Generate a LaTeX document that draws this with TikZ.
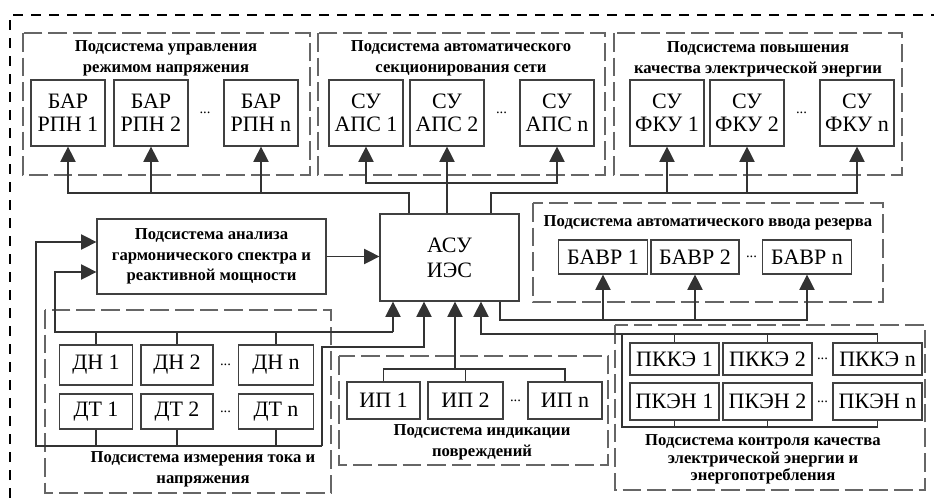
\documentclass[tikz,border=0pt]{standalone}
\usepackage{fontspec}
\setmainfont{Liberation Serif}
\usetikzlibrary{arrows.meta}
\begin{document}
\begin{tikzpicture}[x=0.75pt,y=-0.75pt,
  box/.style={draw=black!75, line width=0.9pt, fill=white, inner sep=0pt,
              align=center, font=\fontsize{16.5}{17.5}\selectfont},
  tall/.style={minimum width=55.5pt, minimum height=49.5pt},
  grp/.style={draw=black!60, line width=0.9pt, dash pattern=on 14pt off 4.5pt},
  ttl/.style={inner sep=0pt, align=center, font=\bfseries\fontsize{12.5}{15.5}\selectfont},
  dots/.style={inner sep=0pt, font=\fontsize{11}{11}\selectfont},
  wire/.style={draw=black!80, line width=0.8pt},
  arr/.style={wire, -{Triangle[width=11.5pt,length=11.5pt]}},
  outer/.style={draw=black, line width=2pt, dash pattern=on 7.5pt off 6pt},
]
\useasboundingbox (0,0) rectangle (934,498);

% outer frame of the whole system
\draw[outer] (10,498) -- (10,15) -- (934,15);

% ---------- upper subsystems ----------
\draw[grp] (23,33) rectangle (310,175);
\node[ttl] (t1) at (166,58.5) {Подсистема управления\\режимом напряжения};
\node[box,tall] (bar1) at (68,113) {БАР\\РПН 1};
\node[box,tall] (bar2) at (151,113) {БАР\\РПН 2};
\node[box,tall] (barn) at (261,113) {БАР\\РПН n};
\node[dots] (d1) at (205,113) {...};

\draw[grp] (318,33) rectangle (605,175);
\node[ttl] (t2) at (461,58.5) {Подсистема автоматического\\секционирования сети};
\node[box,tall] (aps1) at (366,113) {СУ\\АПС 1};
\node[box,tall] (aps2) at (447,113) {СУ\\АПС 2};
\node[box,tall] (apsn) at (557,113) {СУ\\АПС n};
\node[dots] (d2) at (501.5,113) {...};

\draw[grp] (614,33) rectangle (902,175);
\node[ttl] (t3) at (758,59) {Подсистема повышения\\качества электрической энергии};
\node[box,tall] (fku1) at (667,113) {СУ\\ФКУ 1};
\node[box,tall] (fku2) at (747,113) {СУ\\ФКУ 2};
\node[box,tall] (fkun) at (857,113) {СУ\\ФКУ n};
\node[dots] (d3) at (801.5,113) {...};

% ---------- central control system ----------
\node[box, minimum width=104.25pt, minimum height=65.25pt,
      font=\fontsize{16.5}{19}\selectfont] (asu) at (449.5,257.5) {АСУ\\ИЭС};

\node[box, minimum width=171.75pt, minimum height=56.25pt,
      font=\bfseries\fontsize{12.5}{15.4}\selectfont] (an) at (211.5,256.5)
      {Подсистема анализа\\гармонического спектра и\\реактивной мощности};

% ---------- automatic reserve transfer ----------
\draw[grp] (533,203) rectangle (883,302);
\node[ttl] (t4) at (708,223) {Подсистема автоматического ввода резерва};
\node[box, minimum width=66.75pt, minimum height=25.5pt] (bavr1) at (603,257) {БАВР 1};
\node[box, minimum width=66pt, minimum height=25.5pt] (bavr2) at (695,257) {БАВР 2};
\node[box, minimum width=66.75pt, minimum height=25.5pt] (bavrn) at (807,257) {БАВР n};
\node[dots] (d4) at (751.5,257) {...};

% ---------- current and voltage measurement ----------
\draw[grp] (45,310) rectangle (331,493);
\node[ttl] (t5) at (203,469) {Подсистема измерения тока и\\напряжения};
\node[box, minimum width=54.75pt, minimum height=30pt] (dn1) at (96,365) {ДН 1};
\node[box, minimum width=54pt, minimum height=30pt] (dn2) at (177,365) {ДН 2};
\node[box, minimum width=56.25pt, minimum height=30pt] (dnn) at (276,365) {ДН n};
\node[dots] (d5) at (225.5,365) {...};
\node[box, minimum width=54.75pt, minimum height=26.25pt] (dt1) at (96,411.5) {ДТ 1};
\node[box, minimum width=54pt, minimum height=26.25pt] (dt2) at (177,411.5) {ДТ 2};
\node[box, minimum width=56.25pt, minimum height=26.25pt] (dtn) at (276,411.5) {ДТ n};
\node[dots] (d6) at (225.5,411.5) {...};

% ---------- fault indication ----------
\draw[grp] (339,356) rectangle (608,465);
\node[ttl] (t6) at (482,442) {Подсистема индикации\\повреждений};
\node[box, minimum width=54.75pt, minimum height=27.75pt] (ip1) at (383.5,400.5) {ИП 1};
\node[box, minimum width=56.25pt, minimum height=27.75pt] (ip2) at (465.5,400.5) {ИП 2};
\node[box, minimum width=55.5pt, minimum height=27.75pt] (ipn) at (565,400.5) {ИП n};
\node[dots] (d7) at (515.5,400.5) {...};

% ---------- power quality and consumption control ----------
\draw[grp] (615,325) rectangle (925,490);
\node[ttl, font=\bfseries\fontsize{12.5}{13.2}\selectfont] (t7) at (763,459.5)
      {Подсистема контроля качества\\электрической энергии и\\энергопотребления};
\node[box, minimum width=66.75pt, minimum height=24pt] (pk1) at (674.5,359) {ПККЭ 1};
\node[box, minimum width=66.75pt, minimum height=24pt] (pk2) at (767.5,359) {ПККЭ 2};
\node[box, minimum width=66.75pt, minimum height=24pt] (pkn) at (877.5,359) {ПККЭ n};
\node[dots] (d8) at (822.5,359) {...};
\node[box, minimum width=66.75pt, minimum height=27.75pt] (pe1) at (674.5,401.5) {ПКЭН 1};
\node[box, minimum width=66.75pt, minimum height=27.75pt] (pe2) at (767.5,401.5) {ПКЭН 2};
\node[box, minimum width=66.75pt, minimum height=27.75pt] (pen) at (877.5,401.5) {ПКЭН n};
\node[dots] (d9) at (822.5,401.5) {...};

% ---------- bus junctions ----------
\coordinate (tL) at (409,193);
\coordinate (tM) at (447,183);
\coordinate (tR) at (491,193);
\coordinate (inA) at (36,242);
\coordinate (inB) at (55,272);
\coordinate (mTL) at (55,332);
\coordinate (mTR) at (393,332);
\coordinate (mBL) at (36,446);
\coordinate (mBR) at (322,446);
\coordinate (mK) at (424,347);
\coordinate (iB) at (455,369);
\coordinate (bB) at (500,320);
\coordinate (kA) at (481,334);
\coordinate (kT) at (622,334);
\coordinate (kD) at (622,427);

% ---------- connectors: control outputs ----------
\draw[arr] (asu.north -| tL) -- (tL) -| (bar1.south);
\draw[arr] (bar2.south |- tL) -- (bar2.south);
\draw[arr] (barn.south |- tL) -- (barn.south);

\draw[arr] (asu.north -| tM) -- (aps2.south);
\draw[arr] (tM) -| (aps1.south);
\draw[arr] (tM) -| (apsn.south);

\draw[arr] (asu.north -| tR) -- (tR) -| (fkun.south);
\draw[arr] (fku1.south |- tR) -- (fku1.south);
\draw[arr] (fku2.south |- tR) -- (fku2.south);

\draw[arr] (asu.south -| bB) -- (bB) -| (bavrn.south);
\draw[arr] (bavr1.south |- bB) -- (bavr1.south);
\draw[arr] (bavr2.south |- bB) -- (bavr2.south);

\draw[arr] (an.east) -- (an.east -| asu.west);

% ---------- connectors: measurements ----------
\draw[wire] (dn1.north) -- (dn1.north |- mTL);
\draw[wire] (dn2.north) -- (dn2.north |- mTL);
\draw[wire] (dnn.north) -- (dnn.north |- mTL);
\draw[arr] (mTR) -- (mTL) |- (an.west |- inB);
\draw[arr] (mTR) -- (mTR |- asu.south);

\draw[wire] (dt1.south) -- (dt1.south |- mBL);
\draw[wire] (dt2.south) -- (dt2.south |- mBL);
\draw[wire] (dtn.south) -- (dtn.south |- mBL);
\draw[arr] (mBR) -- (mBL) |- (an.west |- inA);
\draw[arr] (mBR) |- (mK) -- (mK |- asu.south);

% ---------- connectors: fault indicators ----------
\draw[wire] (ip1.north) |- (iB) -| (ipn.north);
\draw[wire] (ip2.north) -- (ip2.north |- iB);
\draw[arr] (iB) -- (iB |- asu.south);

% ---------- connectors: power quality ----------
\draw[wire] (pkn.north) |- (kT) -- (kD) -| (pen.south);
\draw[wire] (pk1.north) -- (pk1.north |- kT);
\draw[wire] (pk2.north) -- (pk2.north |- kT);
\draw[wire] (pe1.south) -- (pe1.south |- kD);
\draw[wire] (pe2.south) -- (pe2.south |- kD);
\draw[arr] (kT) -- (kA) -- (kA |- asu.south);
\end{tikzpicture}
\end{document}
